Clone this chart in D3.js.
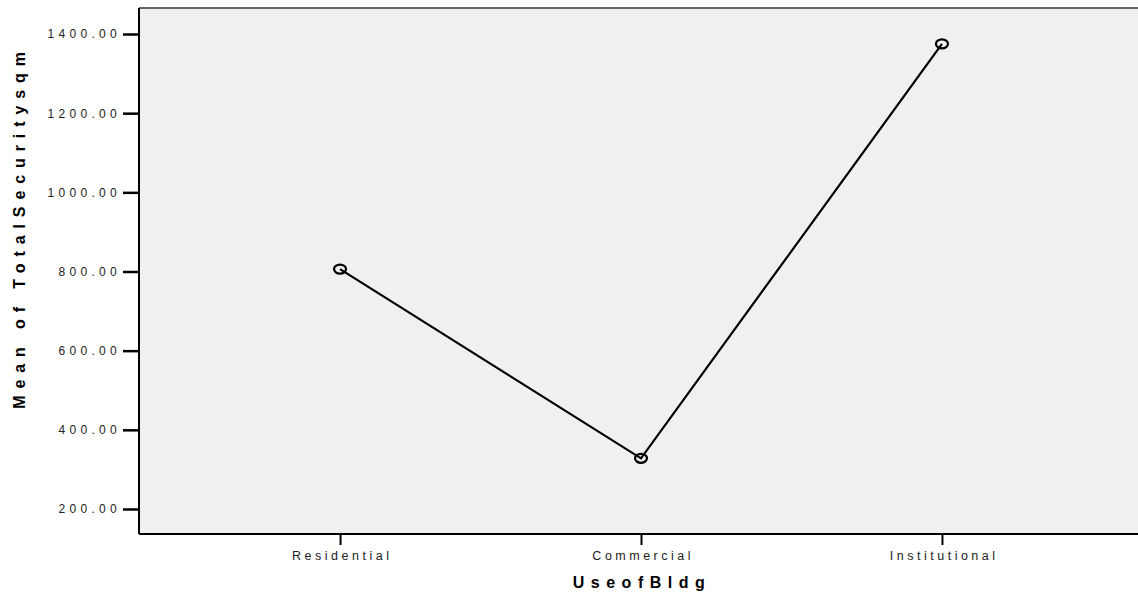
<!DOCTYPE html>
<html>

<head>
    <meta charset="utf-8">
    <title>Mean of TotalSecuritysqm by UseofBldg</title>
    <script type="text/javascript" src="https://d3js.org/d3.v7.min.js"></script>
    <style>
        body {
            margin: 0;
            background: #fff;
        }

        svg {
            display: block;
            font-family: "Liberation Sans", Arial, sans-serif;
        }
    </style>
</head>

<body>
</body>

<script type="text/javascript">
    var w = 1138;
    var h = 598;

    // data
    var categories = ["Residential", "Commercial", "Institutional"];
    var meanValues = [806, 328, 1375];
    var yTicks = [200, 400, 600, 800, 1000, 1200, 1400];

    // plot frame (right side runs past the window edge)
    var plotLeft = 139, plotRight = 1143, plotTop = 8, plotBottom = 534;

    var xScale = d3.scalePoint()
        .domain(categories)
        .range([plotLeft, plotRight])
        .padding(0.668);

    var yScale = d3.scaleLinear()
        .domain([136.8, 1465.7])
        .range([plotBottom, plotTop]);

    var svg = d3.select("body").append("svg").attr("width", w).attr("height", h);

    // plot background
    svg.append("rect")
        .attr("x", plotLeft)
        .attr("y", plotTop)
        .attr("width", plotRight - plotLeft)
        .attr("height", plotBottom - plotTop)
        .attr("fill", "#f0f0f0");

    // top border
    svg.append("line")
        .attr("x1", plotLeft).attr("x2", plotRight)
        .attr("y1", plotTop).attr("y2", plotTop)
        .attr("stroke", "#333").attr("stroke-width", 1.5);

    // y axis
    var yAxis = d3.axisLeft(yScale)
        .tickValues(yTicks)
        .tickSize(16)
        .tickPadding(2)
        .tickFormat(d3.format(".2f"));

    var gy = svg.append("g")
        .attr("transform", "translate(" + plotLeft + ",0)")
        .call(yAxis);
    gy.select(".domain").remove();
    gy.selectAll(".tick line").attr("stroke", "#000").attr("stroke-width", 2.5);
    gy.selectAll(".tick text")
        .attr("fill", "#222")
        .style("font-size", "12px")
        .style("letter-spacing", "4.3px");

    // x axis
    var xAxis = d3.axisBottom(xScale)
        .tickSize(11)
        .tickPadding(6);

    var gx = svg.append("g")
        .attr("transform", "translate(0," + plotBottom + ")")
        .call(xAxis);
    gx.select(".domain").remove();
    gx.selectAll(".tick line").attr("stroke", "#000").attr("stroke-width", 2);
    gx.selectAll(".tick text")
        .attr("fill", "#222")
        .attr("dx", "1.7")
        .style("font-size", "12.5px")
        .style("letter-spacing", "3.5px");

    // left and bottom frame lines
    svg.append("line")
        .attr("x1", plotLeft).attr("x2", plotLeft)
        .attr("y1", plotTop).attr("y2", plotBottom)
        .attr("stroke", "#000").attr("stroke-width", 2);
    svg.append("line")
        .attr("x1", plotLeft).attr("x2", plotRight)
        .attr("y1", plotBottom).attr("y2", plotBottom)
        .attr("stroke", "#000").attr("stroke-width", 2);

    // mean line
    var line = d3.line()
        .x(function(d, i) { return xScale(categories[i]); })
        .y(function(d) { return yScale(d); });

    svg.append("path")
        .datum(meanValues)
        .attr("d", line)
        .attr("fill", "none")
        .attr("stroke", "#000")
        .attr("stroke-width", 2.2);

    // markers
    svg.selectAll("ellipse.marker")
        .data(meanValues)
        .enter()
        .append("ellipse")
        .attr("class", "marker")
        .attr("cx", function(d, i) { return xScale(categories[i]); })
        .attr("cy", function(d) { return yScale(d); })
        .attr("rx", 6)
        .attr("ry", 4.5)
        .attr("fill", "none")
        .attr("stroke", "#000")
        .attr("stroke-width", 2.2);

    // axis titles
    svg.append("text")
        .attr("x", 642)
        .attr("y", 588)
        .attr("text-anchor", "middle")
        .style("font-size", "16px")
        .style("font-weight", "bold")
        .style("letter-spacing", "6.5px")
        .text("UseofBldg");

    svg.append("text")
        .attr("transform", "translate(25,227) rotate(-90)")
        .attr("text-anchor", "middle")
        .style("font-size", "16px")
        .style("font-weight", "bold")
        .style("letter-spacing", "6.9px")
        .text("Mean of TotalSecuritysqm");
</script>
</html>
